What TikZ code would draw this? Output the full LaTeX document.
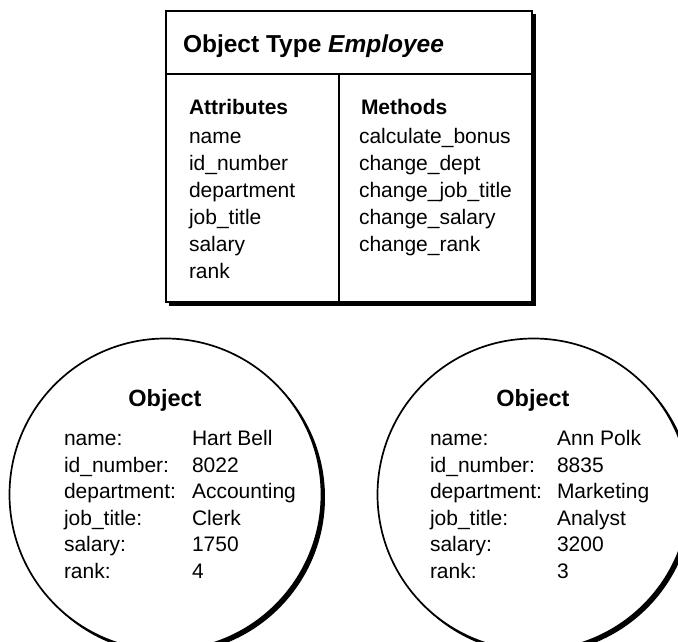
\documentclass[tikz,border=0pt]{standalone}
\usepackage{fontspec}
\setmainfont{Liberation Sans}
\begin{document}
\begin{tikzpicture}[x=1pt,y=-1pt,
  txt/.style={inner sep=0pt, outer sep=0pt, anchor=base west, font=\fontsize{21}{25}\selectfont},
  hd/.style={txt, font=\bfseries\fontsize{21}{25}\selectfont},
  ttl/.style={txt, font=\bfseries\fontsize{24.5}{29}\selectfont},
  ohd/.style={inner sep=0pt, outer sep=0pt, anchor=base, font=\bfseries\fontsize{23.5}{28}\selectfont},
  frame/.style={draw=black, line width=1.7pt, fill=white, rectangle, anchor=north west, inner sep=0pt, outer sep=0pt, minimum width=366pt, minimum height=291pt},
  frameshadow/.style={fill=black, rectangle, anchor=north west, inner sep=0pt, outer sep=0pt, minimum width=367pt, minimum height=292pt},
  obj/.style={circle, draw=black, line width=1.7pt, fill=white, inner sep=0pt, outer sep=0pt, minimum size=312pt, anchor=center},
  objshadow/.style={circle, fill=black, inner sep=0pt, outer sep=0pt, minimum size=313pt, anchor=center},
  sep/.style={line width=1.2pt}
]
\useasboundingbox (0,0) rectangle (678,642);
\clip (0,0) rectangle (678,642);

% ---- class box ----
\node[frameshadow] (boxsh) at (169,14) {};
\node[frame] (box) at (166,11) {};
\coordinate (hl) at (166,74);
\coordinate (hr) at (532,74);
\coordinate (vt) at (339,74);
\coordinate (vb) at (339,302);
\draw[sep] (hl) -- (hr);
\draw[sep] (vt) -- (vb);

\node[ttl] (title) at (183,53) {Object Type \textit{Employee}};
\node[hd] (attrh) at (189,114) {Attributes};
\node[hd] (methh) at (361,114) {Methods};

\node[txt] (a1) at (189,143) {name};
\node[txt] (a2) at (189,170) {id\_number};
\node[txt] (a3) at (189,197) {department};
\node[txt] (a4) at (189,224) {job\_title};
\node[txt] (a5) at (189,251) {salary};
\node[txt] (a6) at (189,278) {rank};

\node[txt] (m1) at (359,143) {calculate\_bonus};
\node[txt] (m2) at (359,170) {change\_dept};
\node[txt] (m3) at (359,197) {change\_job\_title};
\node[txt] (m4) at (359,224) {change\_salary};
\node[txt] (m5) at (359,251) {change\_rank};

% ---- object 1 ----
\node[objshadow] (o1sh) at (168.5,497.5) {};
\node[obj] (o1) at (165.5,494.5) {};
\node[ohd] (o1h) at (165,406) {Object};
\node[txt] (o1l1) at (64,445) {name:};
\node[txt] (o1l2) at (64,472) {id\_number:};
\node[txt] (o1l3) at (64,498.5) {department:};
\node[txt] (o1l4) at (64,525) {job\_title:};
\node[txt] (o1l5) at (64,551.5) {salary:};
\node[txt] (o1l6) at (64,578) {rank:};
\node[txt] (o1v1) at (192,445) {Hart Bell};
\node[txt] (o1v2) at (192,472) {8022};
\node[txt] (o1v3) at (192,498.5) {Accounting};
\node[txt] (o1v4) at (192,525) {Clerk};
\node[txt] (o1v5) at (192,551.5) {1750};
\node[txt] (o1v6) at (192,578) {4};

% ---- object 2 ----
\node[objshadow] (o2sh) at (536.5,497.5) {};
\node[obj] (o2) at (533.5,494.5) {};
\node[ohd] (o2h) at (533,406) {Object};
\node[txt] (o2l1) at (430,445) {name:};
\node[txt] (o2l2) at (430,472) {id\_number:};
\node[txt] (o2l3) at (430,498.5) {department:};
\node[txt] (o2l4) at (430,525) {job\_title:};
\node[txt] (o2l5) at (430,551.5) {salary:};
\node[txt] (o2l6) at (430,578) {rank:};
\node[txt] (o2v1) at (557,445) {Ann Polk};
\node[txt] (o2v2) at (557,472) {8835};
\node[txt] (o2v3) at (557,498.5) {Marketing};
\node[txt] (o2v4) at (557,525) {Analyst};
\node[txt] (o2v5) at (557,551.5) {3200};
\node[txt] (o2v6) at (557,578) {3};
\end{tikzpicture}
\end{document}
